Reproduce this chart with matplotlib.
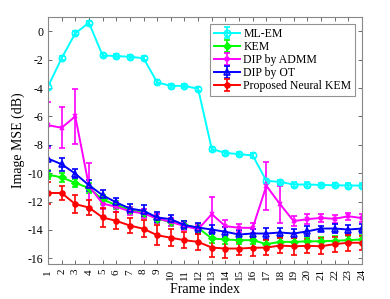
import numpy as np
import matplotlib
matplotlib.use("Agg")
import matplotlib.pyplot as plt

plt.rcParams["font.family"] = ["Liberation Serif", "DejaVu Serif"]
plt.rcParams["axes.unicode_minus"] = False

frames = np.arange(1, 25)

ml_em = [-3.9, -1.9, -0.15, 0.6, -1.7, -1.75, -1.8, -1.9, -3.6, -3.85, -3.85, -4.05,
         -8.3, -8.57, -8.66, -8.75, -10.54, -10.61, -10.8, -10.8, -10.83, -10.85, -10.87, -10.87]
ml_em_err = [0.15] * 24

kem = [-10.1, -10.3, -10.68, -11.05, -11.85, -12.25, -12.6, -12.8, -13.2, -13.45, -13.65, -13.85,
       -14.6, -14.67, -14.72, -14.72, -15.0, -14.84, -14.84, -14.8, -14.8, -14.76, -14.72, -14.67]
kem_err = [0.3, 0.3, 0.3, 0.35, 0.3, 0.3, 0.25, 0.3, 0.3, 0.3, 0.3, 0.3,
           0.3, 0.3, 0.3, 0.3, 0.3, 0.3, 0.3, 0.3, 0.3, 0.3, 0.3, 0.3]

admm = [-6.62, -6.8, -6.0, -10.9, -12.14, -12.37, -12.68, -12.84, -13.19, -13.43, -13.73, -13.95,
        -12.89, -13.73, -13.85, -13.85, -10.89, -12.18, -13.38, -13.24, -13.15, -13.22, -13.03, -13.17]
admm_err = [1.6, 1.45, 1.93, 1.6, 0.4, 0.35, 0.3, 0.3, 0.3, 0.3, 0.3, 0.3,
            1.2, 0.4, 0.3, 0.35, 1.7, 1.3, 0.35, 0.35, 0.3, 0.3, 0.25, 0.3]

dip_ot = [-8.97, -9.37, -10.03, -10.85, -11.55, -12.06, -12.49, -12.65, -13.12, -13.24, -13.66, -13.83,
          -13.97, -14.13, -14.32, -14.25, -14.25, -14.18, -14.25, -14.1, -13.9, -13.9, -13.97, -13.9]
dip_ot_err = [0.85, 0.47, 0.33, 0.4, 0.35, 0.3, 0.3, 0.4, 0.35, 0.3, 0.3, 0.35,
              0.35, 0.35, 0.35, 0.3, 0.4, 0.35, 0.3, 0.35, 0.2, 0.3, 0.3, 0.3]

neural_kem = [-11.39, -11.4, -12.18, -12.42, -13.12, -13.36, -13.69, -13.92, -14.37, -14.55, -14.72, -14.84,
              -15.24, -15.31, -15.31, -15.26, -15.24, -15.1, -15.15, -15.12, -15.15, -15.0, -14.9, -14.9]
neural_kem_err = [0.75, 0.5, 0.65, 0.55, 0.65, 0.6, 0.55, 0.6, 0.7, 0.6, 0.55, 0.55,
                  0.65, 0.65, 0.47, 0.6, 0.55, 0.5, 0.6, 0.5, 0.55, 0.52, 0.57, 0.5]

series = [
    ("ML-EM", ml_em, ml_em_err, "#00ffff", "o", "none", 4.5),
    ("KEM", kem, kem_err, "#00ff00", "D", None, 3.5),
    ("DIP by ADMM", admm, admm_err, "#ff00ff", "x", None, 3.5),
    ("DIP by OT", dip_ot, dip_ot_err, "#0000ff", "^", "none", 5),
    ("Proposed Neural KEM", neural_kem, neural_kem_err, "#ff0000", "o", None, 3.5),
]

fig = plt.figure(figsize=(3.9, 2.99), dpi=100)
ax = fig.add_axes([0.123, 0.117, 0.805, 0.826])

for name, y, err, col, mk, mfc, ms in series:
    kw = {}
    if mfc is not None:
        kw["markerfacecolor"] = mfc
    ax.errorbar(frames, y, yerr=err, color=col, marker=mk, markersize=ms,
                linewidth=1.4, elinewidth=1.2, capsize=2.5, capthick=1.2,
                markeredgewidth=1.2, label=name, **kw)

ax.set_xlim(1, 24)
ax.set_ylim(-16.4, 1)
ax.set_xticks(frames)
ax.set_xticklabels([str(f) for f in frames], rotation=90, fontsize=8)
ax.set_yticks(np.arange(-16, 1, 2))
ax.tick_params(axis="y", labelsize=8.5)
ax.tick_params(direction="in", top=True, right=True, length=3, width=0.6, color="#555555")
for s in ax.spines.values():
    s.set_color("#888888")
    s.set_linewidth(0.8)

ax.set_xlabel("Frame index", fontsize=10, labelpad=2)
ax.set_ylabel("Image MSE (dB)", fontsize=10, labelpad=2)

leg = ax.legend(loc="upper right", fontsize=8.5, frameon=True, fancybox=False,
                edgecolor="#777777", borderpad=0.3, labelspacing=0.1,
                handlelength=2.2, handletextpad=0.3, borderaxespad=0.6)
leg.get_frame().set_linewidth(0.8)

fig.savefig("out.png", dpi=100)
